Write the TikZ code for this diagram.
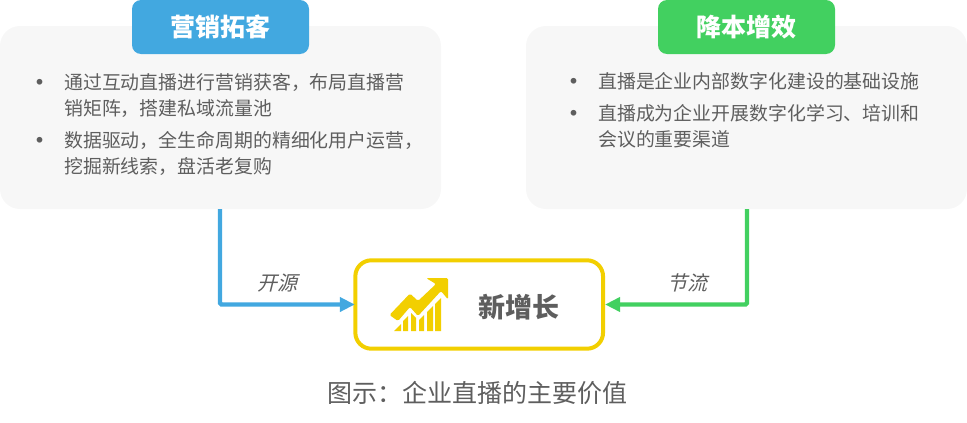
\documentclass[tikz,border=0pt]{standalone}
\usepackage{fontspec}
\setmainfont{Noto Sans CJK SC}
\newfontfamily\cjkslant[FakeSlant=0.25]{Noto Sans CJK SC}
\usetikzlibrary{arrows.meta}
\definecolor{panelgray}{HTML}{F7F7F7}
\definecolor{bluec}{HTML}{42A8E0}
\definecolor{greenc}{HTML}{42D060}
\definecolor{yellowc}{HTML}{F2CF00}
\definecolor{textc}{HTML}{5E5E5E}
\tikzset{
  panel/.style={fill=panelgray,draw=none,rounded corners=20pt,minimum width=441pt,minimum height=183pt,inner sep=0pt,outer sep=0pt},
  titlebox/.style={draw=none,rounded corners=9pt,minimum width=177pt,minimum height=54pt,inner sep=0pt,outer sep=0pt,text=white,font=\fontsize{25}{25}\selectfont\bfseries},
  bodyline/.style={anchor=base west,inner sep=0pt,text=textc,font=\fontsize{18.9}{19}\selectfont},
  bulletdot/.style={anchor=base,inner sep=0pt,text=textc,font=\fontsize{27}{27}\selectfont},
  centrebox/.style={draw=yellowc,line width=4pt,fill=white,rounded corners=16pt,minimum width=247.7pt,minimum height=88.4pt,inner sep=0pt,outer sep=2pt},
  flow/.style={line width=4.4pt,rounded corners=1.5pt,-{Triangle[length=15pt,width=14pt]}},
  flowlabel/.style={inner sep=0pt,text=textc,font=\fontsize{20}{20}\selectfont\cjkslant},
}
\begin{document}
\begin{tikzpicture}[x=1pt,y=-1pt]
\useasboundingbox (0,0) rectangle (967,423);
\node[panel] (leftpanel) at (220.5,117.5) {};
\node[panel] (rightpanel) at (746.5,117.5) {};
\node[titlebox,fill=bluec] (lefttitle) at (220.5,27) {营销拓客};
\node[titlebox,fill=greenc] (righttitle) at (746.5,27) {降本增效};
\node[bulletdot] (lb1) at (39.5,92.5) {•};
\node[bodyline] (l1) at (64,89.5) {通过互动直播进行营销获客，布局直播营};
\node[bodyline] (l2) at (64,115.5) {销矩阵，搭建私域流量池};
\node[bulletdot] (lb2) at (39.5,150.5) {•};
\node[bodyline] (l3) at (64,147.5) {数据驱动，全生命周期的精细化用户运营，};
\node[bodyline] (l4) at (64,173.5) {挖掘新线索，盘活老复购};
\node[bulletdot] (rb1) at (573.5,91.5) {•};
\node[bodyline] (r1) at (598,88.5) {直播是企业内部数字化建设的基础设施};
\node[bulletdot] (rb2) at (573.5,123.5) {•};
\node[bodyline] (r2) at (598,120.5) {直播成为企业开展数字化学习、培训和};
\node[bodyline] (r3) at (598,146.5) {会议的重要渠道};
\node[centrebox] (centre) at (479.2,304.5) {};
\node[inner sep=0pt,text=textc,font=\fontsize{27}{27}\selectfont\bfseries] (growth) at (518.5,307) {新增长};
\draw[flow,draw=bluec,shorten >=-1.5pt] ([xshift=220pt]leftpanel.south west) |- (centre.west);
\draw[flow,draw=greenc] ([xshift=221pt]rightpanel.south west) |- (centre.east);
\node[flowlabel] (kaiyuan) at (277.5,283) {开源};
\node[flowlabel] (jieliu) at (687.5,283) {节流};
\node[inner sep=0pt,text=textc,font=\fontsize{25}{25}\selectfont] (caption) at (477,393) {图示：企业直播的主要价值};
% icon
\fill[yellowc,rounded corners=1.5pt] (389.5,315) -- (410,293.5) -- (418,301) -- (436,284) -- (426,278) -- (448,278) -- (448,299.5) -- (441,291) -- (418,316) -- (410,307) -- (398,321) -- cycle;
\fill[yellowc] (394,331) -- (401,324) -- (401,331) -- cycle;
\fill[yellowc] (403,331) -- (403,321) -- (408,316) -- (408,331) -- cycle;
\fill[yellowc] (411,331) -- (411,313) -- (416,318) -- (416,331) -- cycle;
\fill[yellowc] (419,331) -- (419,320) -- (424,315) -- (424,331) -- cycle;
\fill[yellowc] (427,331) -- (427,312) -- (433,306) -- (433,331) -- cycle;
\fill[yellowc] (435,331) -- (435,304) -- (441,298) -- (441,331) -- cycle;
\end{tikzpicture}
\end{document}
